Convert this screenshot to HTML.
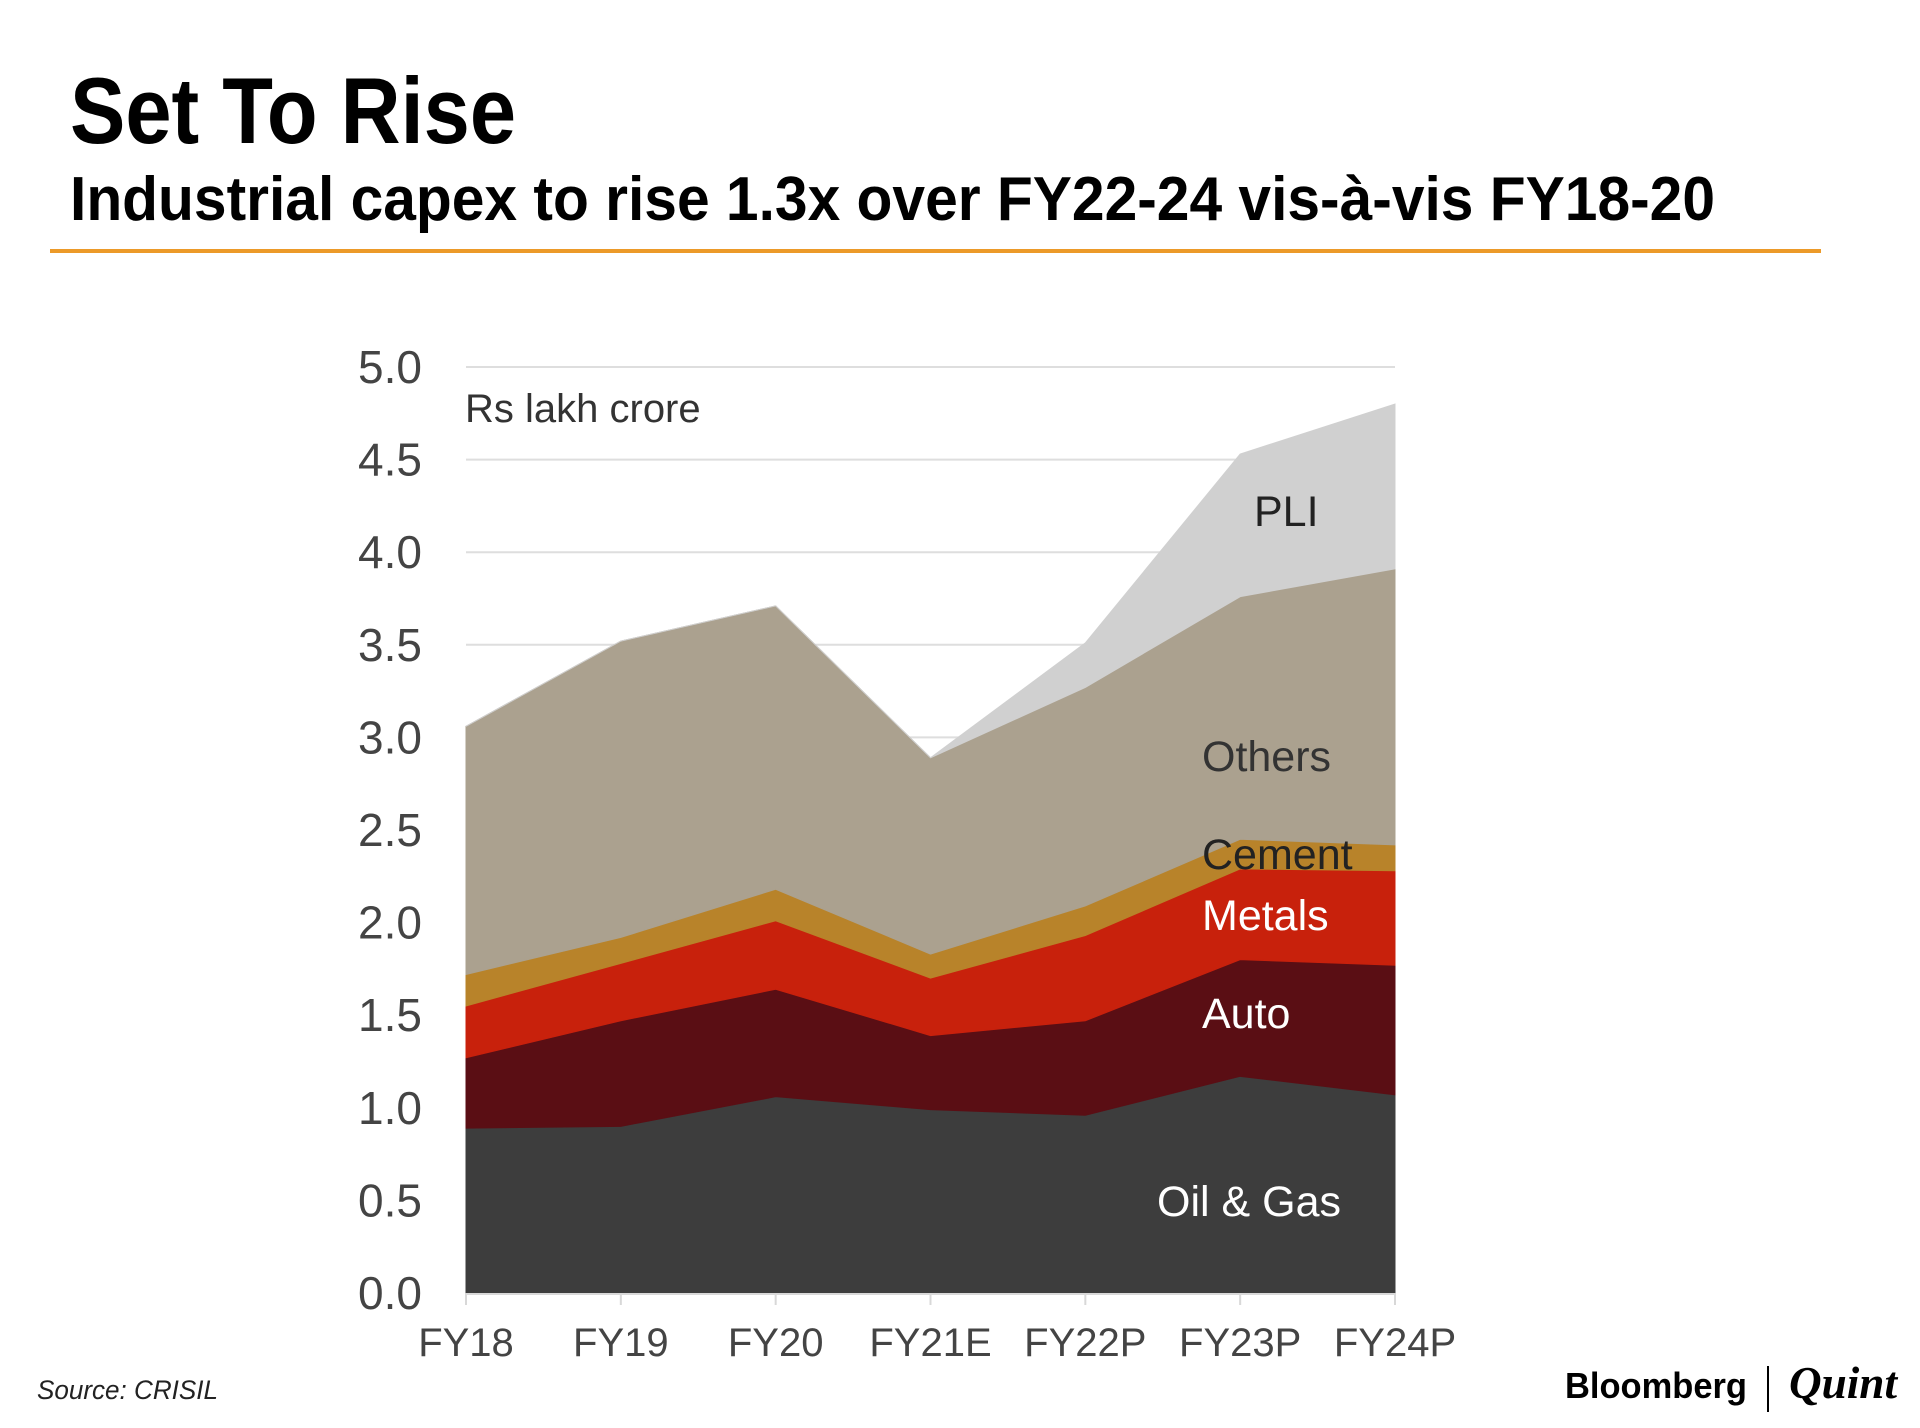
<!DOCTYPE html>
<html><head><meta charset="utf-8"><style>
html,body{margin:0;padding:0;background:#fff;}
svg{display:block;}
text{font-family:"Liberation Sans",sans-serif;}
</style></head><body>
<svg id="chart" width="1920" height="1428" viewBox="0 0 1920 1428" xmlns="http://www.w3.org/2000/svg">
<text x="70" y="143" font-size="94" font-weight="bold" fill="#000" textLength="446" lengthAdjust="spacingAndGlyphs">Set To Rise</text>
<text x="70" y="220" font-size="62" font-weight="bold" fill="#000" textLength="1645" lengthAdjust="spacingAndGlyphs">Industrial capex to rise 1.3x over FY22-24 vis-à-vis FY18-20</text>
<rect x="50" y="249" width="1771" height="4" fill="#ec9a29"/>
<g id="grid"></g>
<g id="areas"></g>
<g id="axes"></g>
<text x="465" y="422" font-size="40" fill="#333">Rs lakh crore</text>
<text x="1254" y="526" font-size="43" fill="#222">PLI</text>
<text x="1202" y="771" font-size="43" fill="#333">Others</text>
<text x="1202" y="869" font-size="43" fill="#222">Cement</text>
<text x="1202" y="930" font-size="43" fill="#fff">Metals</text>
<text x="1202" y="1028" font-size="43" fill="#fff">Auto</text>
<text x="1157" y="1216" font-size="43" fill="#fff">Oil &amp; Gas</text>
<text x="37" y="1399" font-size="27" font-style="italic" fill="#222" textLength="181" lengthAdjust="spacingAndGlyphs">Source: CRISIL</text>
<text x="1565" y="1398" font-size="36" font-weight="bold" fill="#000" textLength="182" lengthAdjust="spacingAndGlyphs">Bloomberg</text>
<rect x="1767" y="1366" width="2" height="46" fill="#000"/>
<text x="1789" y="1398" font-size="46" font-weight="bold" font-style="italic" fill="#000" style="font-family:'Liberation Serif',serif" textLength="108" lengthAdjust="spacingAndGlyphs">Quint</text>
</svg>
<script>
const categories = ["FY18","FY19","FY20","FY21E","FY22P","FY23P","FY24P"];
const oilGas = [0.89,0.90,1.06,0.99,0.96,1.17,1.07];
const auto = [0.38,0.57,0.58,0.40,0.51,0.63,0.70];
const metals = [0.28,0.31,0.37,0.31,0.46,0.49,0.51];
const cement = [0.17,0.14,0.17,0.13,0.16,0.16,0.14];
const others = [1.34,1.60,1.53,1.06,1.18,1.31,1.49];
const pli = [0,0,0,0,0.24,0.77,0.89];
const yTicks = [0,0.5,1.0,1.5,2.0,2.5,3.0,3.5,4.0,4.5,5.0];

const NS = "http://www.w3.org/2000/svg";
const X0 = 466, X1 = 1395, Y0 = 1293, Y5 = 367;
function xScale(i){ return X0 + i*(X1-X0)/(categories.length-1); }
function yScale(v){ return Y0 - v*(Y0-Y5)/5; }
function mk(tag, attrs){ const e=document.createElementNS(NS,tag); for(const k in attrs) e.setAttribute(k,attrs[k]); return e; }

const grid = document.getElementById('grid');
const axes = document.getElementById('axes');
yTicks.forEach(t=>{
  if (t>0){
    const l = mk('line',{x1:X0,x2:X1,y1:yScale(t),y2:yScale(t),stroke:'#dedede','stroke-width':2});
    
    
    grid.appendChild(l);
  }
  const tx = mk('text',{x:422,y:yScale(t)+16,'text-anchor':'end','font-size':46,fill:'#444'});
  tx.textContent = t.toFixed(1);
  
  
  axes.appendChild(tx);
});
const base = mk('line',{x1:X0,x2:X1,y1:Y0+1,y2:Y0+1,stroke:'#d8d8d8','stroke-width':2});


axes.appendChild(base);
categories.forEach((c,i)=>{
  const tk = mk('line',{x1:xScale(i),x2:xScale(i),y1:Y0,y2:Y0+12,stroke:'#d8d8d8','stroke-width':2});
  
  
  axes.appendChild(tk);
  const tx = mk('text',{x:xScale(i),y:1356,'text-anchor':'middle','font-size':40,fill:'#444'});
  tx.textContent = c;
  
  
  axes.appendChild(tx);
});

const layers = [
  {name:'area-oil-gas', vals:oilGas, color:'#3d3d3d'},
  {name:'area-auto', vals:auto, color:'#5a0e14'},
  {name:'area-metals', vals:metals, color:'#c8210c'},
  {name:'area-cement', vals:cement, color:'#b8832a'},
  {name:'area-others', vals:others, color:'#aba18f'},
  {name:'area-pli', vals:pli, color:'#d0d0d0'}
];
const areas = document.getElementById('areas');
let cum = categories.map(()=>0);
const paths = [];
layers.forEach(L=>{
  const lower = cum.slice();
  const upper = cum.map((v,i)=>v+L.vals[i]);
  let d = '';
  upper.forEach((v,i)=>{ d += (i?'L':'M') + xScale(i) + ',' + yScale(v) + ' '; });
  for(let i=lower.length-1;i>=0;i--) d += 'L' + xScale(i) + ',' + yScale(lower[i]) + ' ';
  d += 'Z';
  const p = mk('path',{d:d,fill:L.color,stroke:L.color,'stroke-width':1});
  
  
  paths.push(p);
  cum = upper;
});
paths.forEach(p=>areas.appendChild(p));
</script>
</body></html>
